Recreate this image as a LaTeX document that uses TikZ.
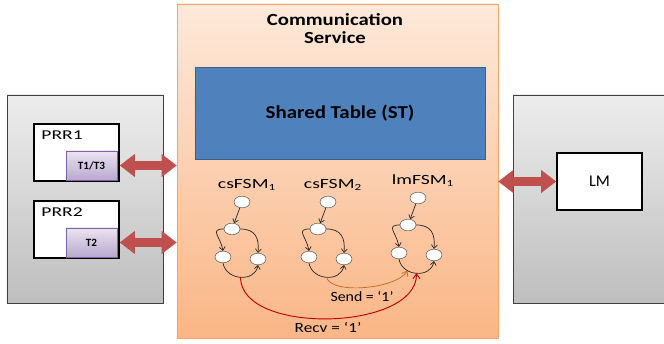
\documentclass[tikz,border=0pt]{standalone}
\usepackage{fontspec}
\setmainfont{Carlito}
\usetikzlibrary{arrows.meta,shapes.geometric,positioning}
\definecolor{boxGrayTop}{HTML}{EDEDED}
\definecolor{boxGrayBot}{HTML}{BEBEBE}
\definecolor{csTop}{HTML}{FDE9DA}
\definecolor{csBot}{HTML}{FAB686}
\definecolor{csLine}{HTML}{F5A66B}
\definecolor{stFill}{HTML}{4F81BD}
\definecolor{stLine}{HTML}{3A5F8C}
\definecolor{taskTop}{HTML}{EAE4F0}
\definecolor{taskBot}{HTML}{B9A8CF}
\definecolor{taskLine}{HTML}{8064A2}
\definecolor{linkRed}{HTML}{C0504D}
\definecolor{recvRed}{HTML}{C00000}
\definecolor{sendBrown}{HTML}{BF6A1F}
% wide text as in the slide
\newcommand{\hstretch}[2]{\scalebox{#1}[1]{#2}}

\begin{document}
\begin{tikzpicture}
[x=0.03cm,y=-0.03cm,
  outerDecorate/.style={shape=rectangle,draw=black!75,top color=boxGrayTop,bottom color=boxGrayBot},
  prrDecorate/.style={shape=rectangle,draw,line width=1.3pt,fill=white,minimum width=2.55cm,minimum height=1.71cm},
  taskDecorate/.style={shape=rectangle,draw=taskLine,top color=taskTop,bottom color=taskBot,
    minimum width=1.53cm,minimum height=0.87cm,font=\fontsize{9.5}{11}\selectfont\bfseries},
  stateDecorate/.style={shape=ellipse,draw=black!70,fill=white,inner sep=0pt,
    minimum width=0.48cm,minimum height=0.35cm},
  font=\fontsize{12}{14}\selectfont]
\clip (0,0) rectangle (664,344);
%% big boxes
\node (Host) at (85,199) [outerDecorate,minimum width=4.68cm,minimum height=6.24cm] {};
\node (Mgr) at (596.5,199) [outerDecorate,minimum width=5.01cm,minimum height=6.24cm] {};
\node (CS) at (337.5,171) [shape=rectangle,draw=csLine,top color=csTop,bottom color=csBot,
  minimum width=9.63cm,minimum height=10.02cm] {};
\node (title) at (335,29) [align=center,font=\fontsize{14.5}{15.5}\selectfont\bfseries]
  {\hstretch{1.22}{Communication}\\\hstretch{1.22}{Service}};
\node (ST) at (340,113) [shape=rectangle,draw=stLine,thick,fill=stFill,minimum width=8.7cm,
  minimum height=2.76cm,font=\fontsize{15.5}{17}\selectfont\bfseries] {\hstretch{1.15}{Shared Table (ST)}};
%% regions, tasks and LM
\foreach \nodename/\y/\task/\tasklabel in {PRR1/152.5/T13/{T1/T3}, PRR2/229.5/T2/T2}
{
  \node (\nodename) at (76.5,\y) [prrDecorate] {};
  \node (\nodename-label) [anchor=north west,inner sep=0pt,font=\fontsize{11.5}{13}\selectfont]
    at ([xshift=2.4mm,yshift=-2.3mm]\nodename.north west) {\hstretch{1.45}{\nodename}};
  \node (\task) at (91.5,\y+13) [taskDecorate] {\tasklabel};
}
\node (LM) at (599.5,181.5) [prrDecorate,font=\fontsize{14}{16}\selectfont] {LM};
%% block arrows
\tikzstyle{LinkStyle}=[draw=linkRed,line width=8pt,
  {Triangle[length=13pt,width=19pt]}-{Triangle[length=13pt,width=19pt]}]
\draw[LinkStyle] (T13.east -| PRR1.east) -- (T13.east -| CS.west);
\draw[LinkStyle] (T2.east -| PRR2.east) -- (T2.east -| CS.west);
\draw[LinkStyle] (LM.west -| CS.east) -- (LM.west);
%% state machines
\tikzstyle{FsmEdge}=[-{Straight Barb[length=3pt,width=5pt]},black!85,semithick]
\foreach \fsm/\x/\y/\fsmname in {
  cs1/242/202/{csFSM\textsubscript{1}}, cs2/328/202/{csFSM\textsubscript{2}},
  lm1/418/198/{lmFSM\textsubscript{1}}}
{
  \node (\fsm-t) at (\x,\y) [stateDecorate] {};
  \node (\fsm-m) at (\x-10,\y+27) [stateDecorate] {};
  \node (\fsm-l) at (\x-19,\y+55) [stateDecorate] {};
  \node (\fsm-r) at (\x+16,\y+57) [stateDecorate] {};
  \node (\fsm-name) at (\x+5,\y-17) {\hstretch{1.4}{\fsmname}};
  \draw[FsmEdge] (\fsm-t) -- (\fsm-m);
  \draw[FsmEdge] (\fsm-m.west) to[out=180,in=100,looseness=1.7] (\fsm-l.north);
  \draw[FsmEdge] (\fsm-m.east) to[out=0,in=85,looseness=1.3] (\fsm-r.north);
  \draw[FsmEdge] (\fsm-l.south) to[out=-80,in=-100,looseness=1.3]
    coordinate[pos=0.3] (\fsm-a) coordinate[pos=0.5] (\fsm-b) (\fsm-r.south);
}
%% messages
\draw[-{Straight Barb[length=4pt,width=6pt]},sendBrown,semithick] (cs2-b) .. controls +(5,18) and +(-10,18) .. (lm1-a);
\draw[-{Straight Barb[length=4pt,width=6pt]},recvRed,thick] (cs1-b) .. controls +(0,58) and +(0,58) .. (lm1-b);
\node (send) at (362,296) {\hstretch{1.13}{Send = `1'}};
\node (recv) at (328,327) {\hstretch{1.23}{Recv = `1'}};
\end{tikzpicture}
\end{document}
